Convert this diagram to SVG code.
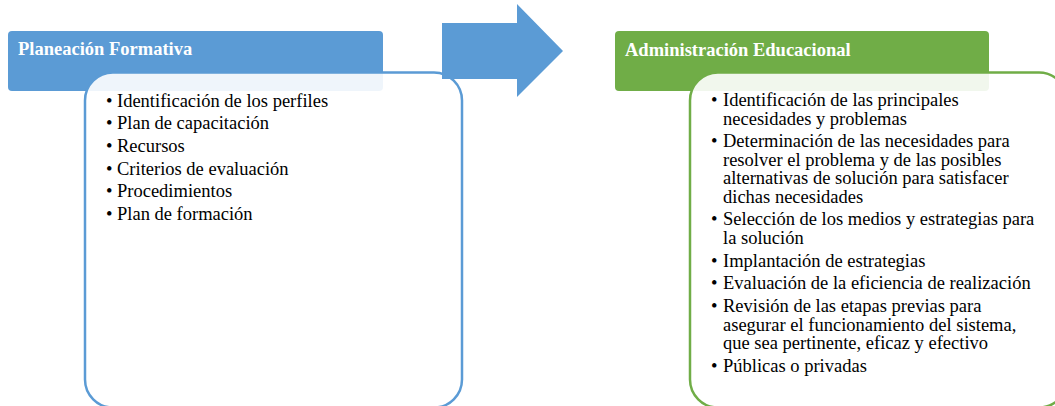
<svg xmlns="http://www.w3.org/2000/svg" width="1055" height="406" viewBox="0 0 1055 406">
<style>
.hdr{font-family:"Liberation Serif","Times New Roman",serif;font-weight:bold;font-size:18.5px;fill:#ffffff}
.txt{font-family:"Liberation Serif","Times New Roman",serif;font-size:18.5px;fill:#000000}
.box{fill:#ffffff;fill-opacity:0.9;stroke-width:2.5}
</style>
<rect width="1055" height="406" fill="#ffffff"/>
<g id="planeacion">
  <rect x="8" y="31" width="375" height="60" rx="4" fill="#5b9bd5"/>
  <text class="hdr" x="18" y="55">Planeación Formativa</text>
  <rect class="box" x="85" y="72.5" width="377" height="335" rx="28" stroke="#5b9bd5"/>
  <g class="txt">
    <text x="106" y="106.5">•</text><text x="117" y="106.5">Identificación de los perfiles</text>
    <text x="106" y="129.2">•</text><text x="117" y="129.2">Plan de capacitación</text>
    <text x="106" y="151.9">•</text><text x="117" y="151.9">Recursos</text>
    <text x="106" y="174.6">•</text><text x="117" y="174.6">Criterios de evaluación</text>
    <text x="106" y="197.3">•</text><text x="117" y="197.3">Procedimientos</text>
    <text x="106" y="220">•</text><text x="117" y="220">Plan de formación</text>
  </g>
</g>
<g id="connectors">
  <polygon points="442,23 517,23 517,4 563,51 517,97 517,79 442,79" fill="#5b9bd5"/>
</g>
<g id="administracion">
  <rect x="615" y="31" width="374" height="60" rx="4" fill="#70ad47"/>
  <text class="hdr" x="625" y="56">Administración Educacional</text>
  <rect class="box" x="690" y="72.5" width="377" height="335" rx="28" stroke="#70ad47"/>
  <g class="txt">
    <text x="711" y="106">•</text><text x="723" y="106">Identificación de las principales</text>
    <text x="723" y="124.5">necesidades y problemas</text>
    <text x="711" y="147.2">•</text><text x="723" y="147.2">Determinación de las necesidades para</text>
    <text x="723" y="165.7">resolver el problema y de las posibles</text>
    <text x="723" y="184.2">alternativas de solución para satisfacer</text>
    <text x="723" y="202.7">dichas necesidades</text>
    <text x="711" y="225.4">•</text><text x="723" y="225.4">Selección de los medios y estrategias para</text>
    <text x="723" y="243.9">la solución</text>
    <text x="711" y="266.6">•</text><text x="723" y="266.6">Implantación de estrategias</text>
    <text x="711" y="289.3">•</text><text x="723" y="289.3">Evaluación de la eficiencia de realización</text>
    <text x="711" y="312">•</text><text x="723" y="312">Revisión de las etapas previas para</text>
    <text x="723" y="330.5">asegurar el funcionamiento del sistema,</text>
    <text x="723" y="349">que sea pertinente, eficaz y efectivo</text>
    <text x="711" y="371.7">•</text><text x="723" y="371.7">Públicas o privadas</text>
  </g>
</g>
</svg>
